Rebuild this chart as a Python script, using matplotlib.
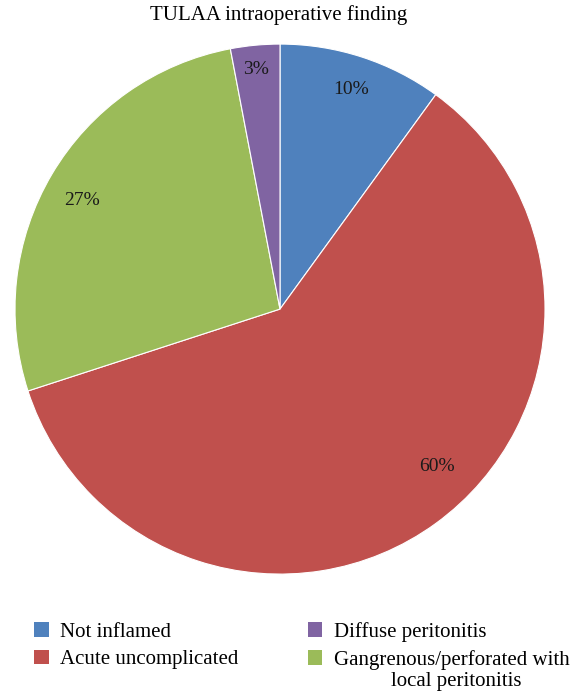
import numpy as np
import matplotlib.pyplot as plt

labels = ['Not inflamed', 'Acute uncomplicated', 'Gangrenous/perforated with', 'Diffuse peritonitis']
values = [10, 60, 27, 3]
colors = ['#4F81BD', '#C0504D', '#9BBB59', '#8064A2']

plt.rcParams['font.family'] = ['Liberation Serif', 'DejaVu Serif']

fig = plt.figure(figsize=(5.79, 6.93), dpi=100)
ax = fig.add_axes([0.4836 - 0.4577, 0.554 - 0.3824, 0.9154, 0.7648])

wedges, texts, autotexts = ax.pie(values, colors=colors, startangle=90, counterclock=False,
                                  autopct='%1.0f%%', pctdistance=0.87,
                                  wedgeprops=dict(edgecolor='white', linewidth=0.8),
                                  textprops=dict(fontsize=14, color='#1a1a1a'))
ax.set_aspect('equal')
ax.set_xlim(-1, 1)
ax.set_ylim(-1, 1)

# Excel put some labels off-centre
for i, ang, r in [(1, -45, 0.84), (2, 151.3, 0.85), (3, 95.7, 0.91)]:
    a = np.deg2rad(ang)
    autotexts[i].set_position((r * np.cos(a), r * np.sin(a)))

fig.text(0.482, 0.978, 'TULAA intraoperative finding', ha='center', va='center', fontsize=15)

order = [0, 1, 3, 2]
leg = fig.legend([wedges[i] for i in order], [labels[i] for i in order], ncol=2,
                 loc='upper left', bbox_to_anchor=(0.045, 0.115), frameon=False,
                 fontsize=15, handlelength=0.7, handleheight=0.7, handletextpad=0.55,
                 columnspacing=3.3, labelspacing=0.4, borderaxespad=0)
for h in leg.legend_handles:
    h.set_edgecolor('none')
fig.text(0.788, 0.0173, 'local peritonitis', ha='center', va='center', fontsize=15)

fig.savefig('out.png', dpi=100)
